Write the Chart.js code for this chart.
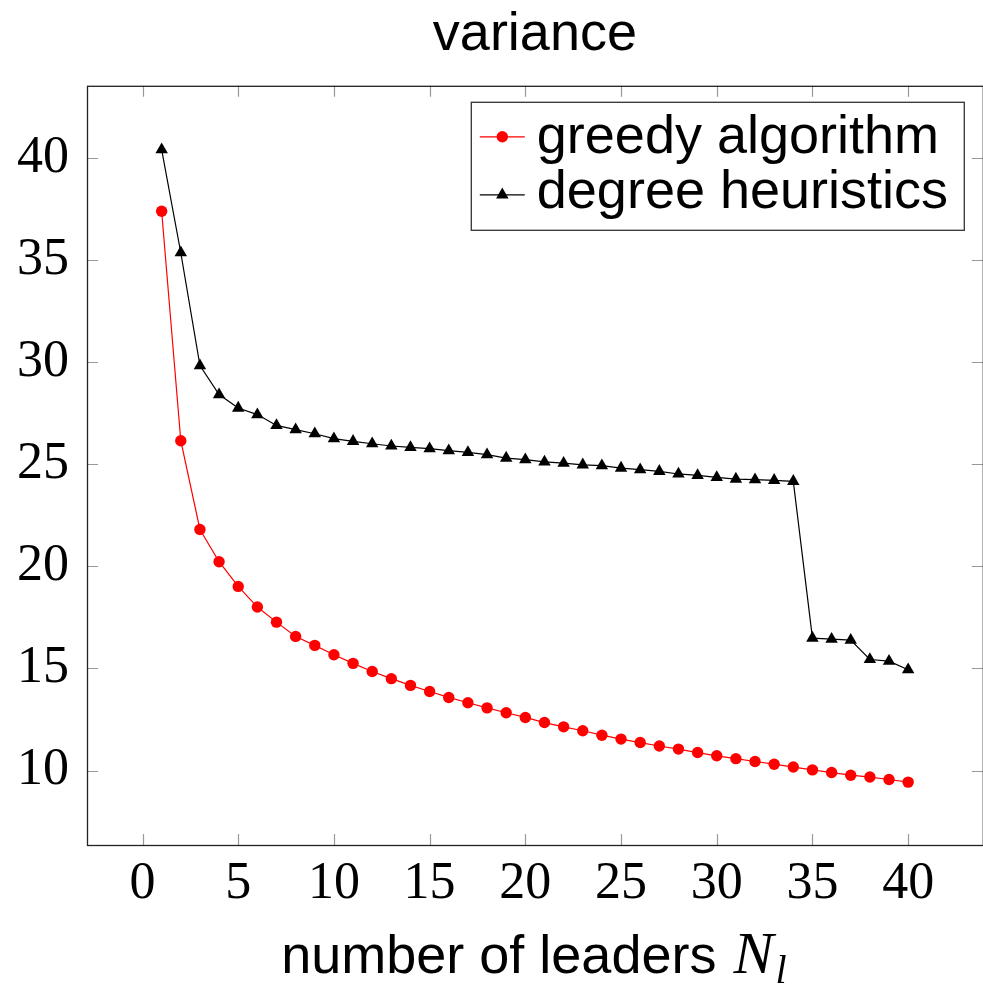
<!DOCTYPE html>
<html>
<head>
<meta charset="utf-8">
<title>variance</title>
<script src="https://cdn.jsdelivr.net/npm/chart.js@4.4.1/dist/chart.umd.min.js"></script>
<style>
  html, body { margin: 0; padding: 0; background: #fff; overflow: hidden; }
  #wrap { width: 990px; height: 989px; position: relative; }
</style>
</head>
<body>
<div id="wrap"><canvas id="chart"></canvas></div>
<script>
// number of leaders N_l
const leaders = [1, 2, 3, 4, 5, 6, 7, 8, 9, 10, 11, 12, 13, 14, 15, 16, 17, 18, 19, 20,
  21, 22, 23, 24, 25, 26, 27, 28, 29, 30, 31, 32, 33, 34, 35, 36, 37, 38, 39, 40];

// variance values
const greedy = [37.40, 26.16, 21.81, 20.23, 19.02, 18.01, 17.27, 16.57, 16.13, 15.67,
  15.25, 14.85, 14.50, 14.17, 13.87, 13.58, 13.32, 13.07, 12.83, 12.60,
  12.35, 12.14, 11.95, 11.73, 11.54, 11.37, 11.20, 11.05, 10.88, 10.72,
  10.58, 10.44, 10.31, 10.17, 10.03, 9.90, 9.77, 9.68, 9.56, 9.43];
const degree = [40.42, 35.37, 29.84, 28.42, 27.76, 27.44, 26.91, 26.70, 26.50, 26.26,
  26.13, 26.01, 25.90, 25.83, 25.77, 25.67, 25.59, 25.48, 25.31, 25.23,
  25.12, 25.06, 24.98, 24.94, 24.82, 24.74, 24.66, 24.53, 24.46, 24.36,
  24.28, 24.25, 24.22, 24.17, 16.49, 16.44, 16.39, 15.44, 15.36, 14.94];

const seriesNames = ['greedy algorithm', 'degree heuristics'];
const xTicks = [0, 5, 10, 15, 20, 25, 30, 35, 40];
const yTicks = [10, 15, 20, 25, 30, 35, 40];

const SANS = '"Liberation Sans", Arial, Helvetica, sans-serif';
const SERIF = '"Liberation Serif", "Times New Roman", serif';

function toPoints(ys) {
  return leaders.map((x, i) => ({ x: x, y: ys[i] }));
}

// pgfplots style frame, inward ticks on all four sides, legend box and x label
const frameAndExtras = {
  id: 'frameAndExtras',
  afterDraw(chart) {
    const ctx = chart.ctx;
    const a = chart.chartArea;
    const xs = chart.scales.x, ys = chart.scales.y;
    const tl = 11;
    ctx.save();

    // tick marks
    ctx.strokeStyle = '#999';
    ctx.lineWidth = 1.2;
    ctx.beginPath();
    xTicks.forEach(v => {
      const px = Math.round(xs.getPixelForValue(v)) + 0.5;
      ctx.moveTo(px, a.bottom); ctx.lineTo(px, a.bottom - tl);
      ctx.moveTo(px, a.top); ctx.lineTo(px, a.top + tl);
    });
    yTicks.forEach(v => {
      const py = Math.round(ys.getPixelForValue(v)) + 0.5;
      ctx.moveTo(a.left, py); ctx.lineTo(a.left + tl, py);
      ctx.moveTo(a.right, py); ctx.lineTo(a.right - tl, py);
    });
    ctx.stroke();

    // frame
    ctx.strokeStyle = '#222';
    ctx.lineWidth = 1.3;
    ctx.strokeRect(a.left + 0.5, a.top + 0.5, a.right - a.left, a.bottom - a.top);

    // legend
    const bw = 493, bh = 128;
    const bx = a.right - 19 - bw, by = a.top + 16;
    ctx.fillStyle = '#fff';
    ctx.fillRect(bx, by, bw, bh);
    ctx.strokeStyle = '#333';
    ctx.lineWidth = 1.3;
    ctx.strokeRect(bx + 0.5, by + 0.5, bw, bh);
    const rows = [by + 35, by + 93];
    const bases = [by + 51, by + 106];
    chart.data.datasets.forEach((ds, i) => {
      const cy = rows[i];
      ctx.strokeStyle = ds.borderColor;
      ctx.lineWidth = 1.2;
      ctx.beginPath();
      ctx.moveTo(bx + 9, cy); ctx.lineTo(bx + 54, cy);
      ctx.stroke();
      ctx.fillStyle = ds.pointBackgroundColor;
      Chart.helpers.drawPoint(ctx, {
        pointStyle: ds.pointStyle, radius: ds.pointRadius, rotation: 0, borderWidth: 0
      }, bx + 31.5, cy);
      ctx.fillStyle = '#000';
      ctx.font = '54px ' + SANS;
      ctx.textAlign = 'left';
      ctx.textBaseline = 'alphabetic';
      ctx.fillText(ds.label, bx + 66, bases[i]);
    });

    // x axis label: number of leaders N_l
    const part1 = 'number of leaders ';
    ctx.font = '54px ' + SANS;
    const w1 = ctx.measureText(part1).width;
    ctx.font = 'italic 60px ' + SERIF;
    const w2 = ctx.measureText('N').width;
    ctx.font = 'italic 40px ' + SERIF;
    const w3 = ctx.measureText('l').width;
    const total = w1 + w2 + w3 + 6;
    const cx = (a.left + a.right) / 2;
    let x0 = cx - total / 2;
    const base = 973;
    ctx.fillStyle = '#000';
    ctx.textAlign = 'left';
    ctx.textBaseline = 'alphabetic';
    ctx.font = '54px ' + SANS;
    ctx.fillText(part1, x0, base);
    ctx.font = 'italic 60px ' + SERIF;
    ctx.fillText('N', x0 + w1 + 2, base);
    ctx.font = 'italic 40px ' + SERIF;
    ctx.fillText('l', x0 + w1 + w2 + 4, base + 10);

    ctx.restore();
  }
};

const chart = new Chart(document.getElementById('chart'), {
  type: 'line',
  data: {
    datasets: [{
      label: seriesNames[0],
      data: toPoints(greedy),
      borderColor: '#ff0000',
      backgroundColor: '#ff0000',
      pointBackgroundColor: '#ff0000',
      pointBorderWidth: 0,
      pointStyle: 'circle',
      pointRadius: 5.7,
      borderWidth: 1.2,
      tension: 0
    }, {
      label: seriesNames[1],
      data: toPoints(degree),
      borderColor: '#000000',
      backgroundColor: '#000000',
      pointBackgroundColor: '#000000',
      pointBorderWidth: 0,
      pointStyle: 'triangle',
      pointRadius: 7.2,
      borderWidth: 1.2,
      tension: 0
    }]
  },
  options: {
    responsive: true,
    maintainAspectRatio: false,
    animation: false,
    layout: { padding: { left: 0, right: 4, top: 0, bottom: 0 } },
    plugins: {
      legend: { display: false },
      tooltip: { enabled: false },
      title: {
        display: true,
        fullSize: false,
        text: 'variance',
        color: '#000',
        font: { family: SANS, size: 54, weight: 'normal' },
        padding: { top: 3, bottom: 18 }
      }
    },
    scales: {
      x: {
        type: 'linear',
        min: -2.9,
        max: 43.9,
        grid: { display: false },
        border: { display: false },
        ticks: {
          stepSize: 5,
          includeBounds: false,
          color: '#000',
          padding: 0,
          maxRotation: 0,
          autoSkip: false,
          font: { family: SERIF, size: 52 }
        },
        afterFit(s) { s.height = 144; }
      },
      y: {
        min: 6.35,
        max: 43.55,
        grid: { display: false },
        border: { display: false },
        ticks: {
          stepSize: 5,
          includeBounds: false,
          color: '#000',
          padding: 10,
          font: { family: SERIF, size: 52 }
        },
        afterFit(s) { s.width = 87; }
      }
    }
  },
  plugins: [frameAndExtras]
});
</script>
</body>
</html>
